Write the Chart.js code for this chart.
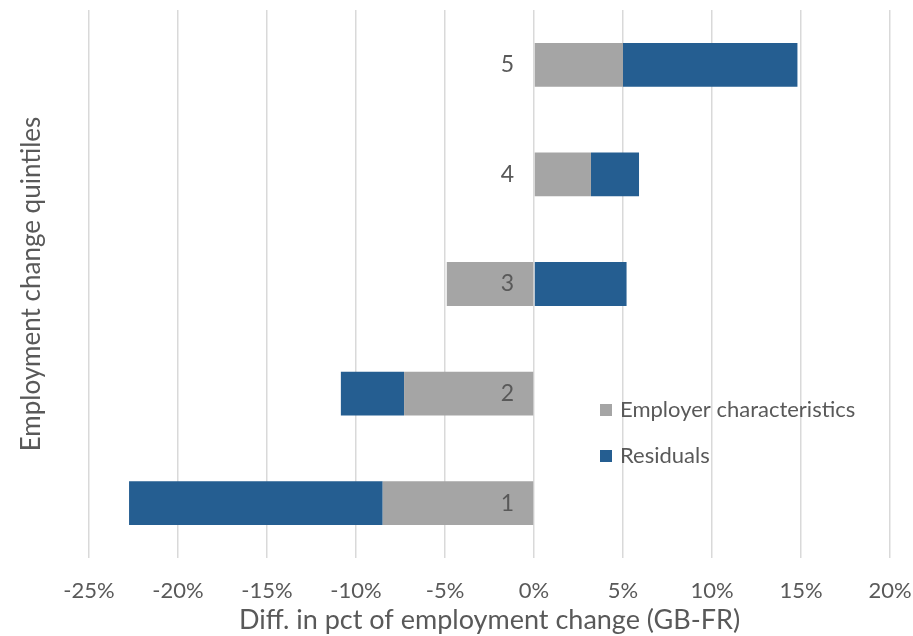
<!DOCTYPE html>
<html>
<head>
<meta charset="utf-8">
<script src="https://cdn.jsdelivr.net/npm/chart.js@4/dist/chart.umd.min.js"></script>
<style>
  html, body { margin: 0; padding: 0; background: #ffffff; }
  #wrap { width: 913px; height: 636px; }
</style>
</head>
<body>
<div id="wrap"><canvas id="decomp"></canvas></div>
<script>
// Quintiles, bottom (1) to top (5)
const quintiles = ["1", "2", "3", "4", "5"];
// Contributions in percentage points
const employerValues = [-8.5, -7.3, -4.9, 3.2, 5.0];
const residualValues = [-14.25, -3.55, 5.2, 2.7, 9.8];
const xTicks = [-25, -20, -15, -10, -5, 0, 5, 10, 15, 20];

const GREY = "#a5a5a5";
const BLUE = "#255e91";
const TEXT = "#595959";
const FONT = "Lato, 'Open Sans', sans-serif";

// Quintile labels sit just left of the zero line
const zeroLabels = {
  id: "zeroLabels",
  afterDatasetsDraw(chart) {
    const { ctx, scales } = chart;
    const x0 = scales.x.getPixelForValue(0);
    ctx.save();
    ctx.font = "23px " + FONT;
    ctx.fillStyle = TEXT;
    ctx.textAlign = "right";
    ctx.textBaseline = "middle";
    quintiles.forEach((q, i) => {
      ctx.fillText(q, x0 - 20, scales.y.getPixelForValue(i));
    });
    ctx.restore();
  },
};

// Legend drawn inside the plot, lower right
const innerLegend = {
  id: "innerLegend",
  afterDraw(chart) {
    const { ctx } = chart;
    const items = [
      { text: "Employer characteristics", color: GREY, y: 410 },
      { text: "Residuals", color: BLUE, y: 456 },
    ];
    ctx.save();
    ctx.font = "22px " + FONT;
    ctx.textBaseline = "middle";
    items.forEach((it) => {
      ctx.fillStyle = it.color;
      ctx.fillRect(600, it.y - 6, 12, 12);
      ctx.fillStyle = TEXT;
      ctx.fillText(it.text, 620, it.y);
    });
    ctx.restore();
  },
};

new Chart(document.getElementById("decomp"), {
  type: "bar",
  data: {
    labels: quintiles,
    datasets: [
      {
        label: "Employer characteristics",
        data: employerValues,
        backgroundColor: GREY,
        barPercentage: 0.4,
        categoryPercentage: 1,
      },
      {
        label: "Residuals",
        data: residualValues,
        backgroundColor: BLUE,
        barPercentage: 0.4,
        categoryPercentage: 1,
      },
    ],
  },
  options: {
    indexAxis: "y",
    responsive: true,
    maintainAspectRatio: false,
    animation: false,
    layout: { padding: { top: 10, right: 0, left: 0, bottom: 0 } },
    plugins: {
      legend: { display: false },
      tooltip: { enabled: false },
    },
    scales: {
      x: {
        stacked: true,
        min: -25,
        max: 20,
        afterBuildTicks(scale) {
          scale.ticks = xTicks.map((v) => ({ value: v }));
        },
        afterFit(scale) {
          scale.height = 78;
          scale.paddingLeft = 0;
          scale.paddingRight = 23;
        },
        grid: { color: "#d9d9d9", lineWidth: 1.5, drawTicks: false },
        border: { display: false },
        ticks: {
          color: TEXT,
          font: { family: FONT, size: 22 },
          padding: 20,
          callback: (v) => v + "%",
        },
        title: {
          display: true,
          text: "Diff. in pct of employment change (GB-FR)",
          color: TEXT,
          font: { family: FONT, size: 27 },
          padding: { top: 0, bottom: 0 },
        },
      },
      y: {
        stacked: true,
        reverse: true,
        afterFit(scale) {
          scale.width = 89;
        },
        grid: { display: false },
        border: { display: false },
        ticks: { display: false },
        title: {
          display: true,
          text: "Employment change quintiles",
          color: TEXT,
          font: { family: FONT, size: 26 },
          padding: { top: 16, bottom: 0 },
        },
      },
    },
  },
  plugins: [zeroLabels, innerLegend],
});
</script>
</body>
</html>
